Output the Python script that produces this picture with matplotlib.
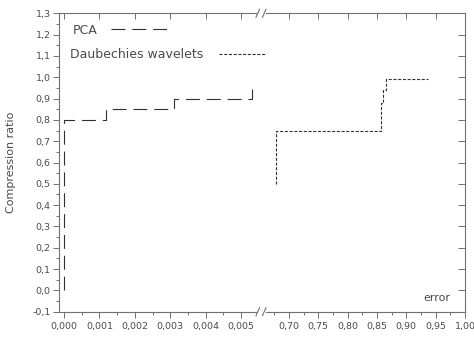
import numpy as np
import matplotlib
matplotlib.use("Agg")
from matplotlib import pyplot as plt
from matplotlib.lines import Line2D
from matplotlib.ticker import FixedLocator, FuncFormatter

# donnees
pca_x = [0.0, 0.0, 0.0012, 0.0031, 0.0053]
pca_y = [0.0, 0.80, 0.85, 0.90, 0.95]
daub_x = [0.677, 0.677, 0.856, 0.860, 0.865, 0.9375]
daub_y = [0.50, 0.75, 0.88, 0.94, 0.99, 0.99]

xticks_left = [0.000, 0.001, 0.002, 0.003, 0.004, 0.005]
xticks_right = [0.70, 0.75, 0.80, 0.85, 0.90, 0.95, 1.00]
yticks = [-0.1, 0.0, 0.1, 0.2, 0.3, 0.4, 0.5, 0.6, 0.7, 0.8, 0.9, 1.0, 1.1, 1.2, 1.3]

plt.rcParams['font.family'] = ['DejaVu Sans']
plt.rcParams['lines.scale_dashes'] = False

W, H = 474, 338
txt = '#4a4a4a'
axc = '#707070'
linec = '#303030'

fig = plt.figure(figsize=(W / 100, H / 100), dpi=100)
bot, top = 311.7, 13.3
axL = fig.add_axes([59 / W, 1 - bot / H, (256 - 59) / W, (bot - top) / H])
axR = fig.add_axes([266 / W, 1 - bot / H, (465 - 266) / W, (bot - top) / H])

# echelles
x0 = 64.0
sc = 35.4 / 0.001
axL.set_xlim((59 - x0) / sc, (256 - x0) / sc)
axR.set_xlim(0.70 - (289 - 266) / 29.33 * 0.05, 1.00)
for a in (axL, axR):
    a.set_ylim(-0.1, 1.3)
    a.patch.set_alpha(0)

l1, = axL.step(pca_x, pca_y, where='post', color=linec, lw=0.8,
               dashes=(10, 5), label='PCA')
l2, = axR.step(daub_x, daub_y, where='post', color=linec, lw=0.8,
               dashes=(2.2, 1.2), label='Daubechies wavelets')

def fmt(nd):
    return FuncFormatter(lambda v, p: ("%.*f" % (nd, v + 0.0)).replace('.', ','))

# axe gauche
axL.spines['right'].set_visible(False)
axL.xaxis.set_major_locator(FixedLocator(xticks_left))
axL.xaxis.set_minor_locator(FixedLocator(np.array(xticks_left) + 0.0005))
axL.xaxis.set_major_formatter(fmt(3))
axL.yaxis.set_major_locator(FixedLocator(yticks))
axL.yaxis.set_minor_locator(FixedLocator(np.array(yticks[:-1]) + 0.05))
axL.yaxis.set_major_formatter(fmt(1))
axL.tick_params(which='major', direction='out', length=4.5, width=0.7, color=axc,
                labelsize=6.8, labelcolor=txt, pad=2)
axL.tick_params(which='minor', direction='out', length=2.5, width=0.7, color=axc)
axL.tick_params(axis='x', which='both', top=False, pad=3)
axL.tick_params(axis='y', which='both', right=False, pad=1.5)

# axe droit
axR.spines['left'].set_visible(False)
axR.xaxis.set_major_locator(FixedLocator(xticks_right))
axR.xaxis.set_minor_locator(FixedLocator(np.array(xticks_right) - 0.025))
axR.xaxis.set_major_formatter(fmt(2))
axR.tick_params(axis='x', which='major', direction='out', length=4.5, width=0.7,
                color=axc, labelsize=6.8, labelcolor=txt, pad=3, top=False)
axR.tick_params(axis='x', which='minor', direction='out', length=2.5, width=0.7,
                color=axc, top=False)
axR.yaxis.set_major_locator(FixedLocator(yticks[1:-1]))
axR.yaxis.set_minor_locator(FixedLocator([]))
axR.tick_params(axis='y', which='major', direction='in', length=5, width=0.7,
                color=axc, left=False, right=True, labelleft=False)

# graduations du haut vers l'interieur
for a, tk in ((axL, xticks_left), (axR, xticks_right)):
    sec = a.secondary_xaxis('top')
    sec.xaxis.set_major_locator(FixedLocator(tk))
    sec.tick_params(direction='in', length=4, width=0.7, color=axc, labeltop=False)
    sec.spines['top'].set_color(axc)
    sec.spines['top'].set_linewidth(0.8)
    a.spines['top'].set_visible(False)

for a in (axL, axR):
    for s in a.spines.values():
        s.set_color(axc)
        s.set_linewidth(0.8)

axL.set_ylabel('Compression ratio', fontsize=8, color=txt)
axL.yaxis.set_label_coords((16 - 59) / 197, 0.5)
axR.text((450 - 266) / 199, (bot - 298) / (bot - top), 'error', fontsize=8,
         color=txt, ha='right', va='center', transform=axR.transAxes)

# coupures //
for yy in (bot, top):
    for xs in (256.0, 262.5):
        fig.add_artist(Line2D([xs / W, (xs + 3.5) / W],
                              [1 - (yy + 4) / H, 1 - (yy - 4) / H],
                              color=axc, lw=0.8, transform=fig.transFigure))

# legendes
fs = 9
fig.legend(handles=[l1], loc='upper left', bbox_to_anchor=(72.7 / W, 1 - 23.5 / H),
           frameon=False, fontsize=fs, markerfirst=False, borderpad=0,
           borderaxespad=0, handlelength=4.6, handletextpad=1.1, labelcolor=txt)
fig.legend(handles=[l2], loc='upper left', bbox_to_anchor=(70 / W, 1 - 48.5 / H),
           frameon=False, fontsize=fs, markerfirst=False, borderpad=0,
           borderaxespad=0, handlelength=3.75, handletextpad=1.25, labelcolor=txt)

fig.savefig('out.png', dpi=100)
